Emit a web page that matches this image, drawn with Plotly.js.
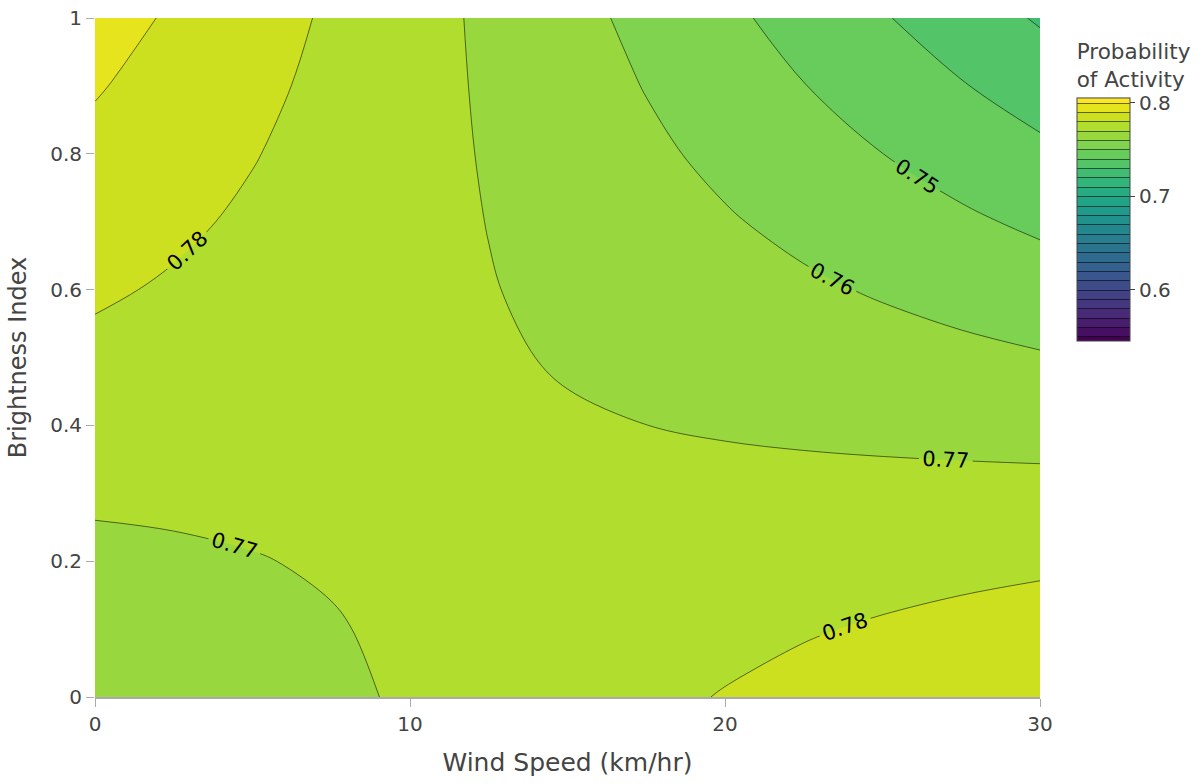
<!DOCTYPE html>
<html>
<head>
<meta charset="utf-8">
<script src="https://cdn.plot.ly/plotly-3.0.1.min.js"></script>
<style>html,body{margin:0;padding:0;background:#fff;}#chart{width:1202px;height:784px;}</style>
</head>
<body>
<div id="chart"></div>
<script>
// Wind speed (km/hr) grid
var windSpeed = [0, 2.5, 5, 7.5, 10, 12.5, 15, 17.5, 20, 22.5, 25, 27.5, 30];
// Brightness index grid
var brightness = [0, 0.1, 0.2, 0.3, 0.4, 0.5, 0.6, 0.7, 0.8, 0.9, 1.0];
// Probability of activity, one row per brightness value
var prob_b00 = [0.76117, 0.76364, 0.76609, 0.76852, 0.77094, 0.77334, 0.77572, 0.77808, 0.78042, 0.78275, 0.78506, 0.78735, 0.78962];
var prob_b01 = [0.76459, 0.76626, 0.76792, 0.76957, 0.77121, 0.77284, 0.77447, 0.77609, 0.77769, 0.77930, 0.78089, 0.78247, 0.78405];
var prob_b02 = [0.76798, 0.76886, 0.76973, 0.77061, 0.77148, 0.77235, 0.77321, 0.77408, 0.77494, 0.77580, 0.77666, 0.77751, 0.77836];
var prob_b03 = [0.77133, 0.77143, 0.77154, 0.77164, 0.77174, 0.77185, 0.77195, 0.77205, 0.77216, 0.77226, 0.77236, 0.77247, 0.77257];
var prob_b04 = [0.77465, 0.77399, 0.77333, 0.77267, 0.77201, 0.77135, 0.77068, 0.77002, 0.76935, 0.76868, 0.76801, 0.76734, 0.76667];
var prob_b05 = [0.77793, 0.77652, 0.77511, 0.77370, 0.77227, 0.77085, 0.76941, 0.76797, 0.76652, 0.76507, 0.76361, 0.76214, 0.76067];
var prob_b06 = [0.78118, 0.77904, 0.77689, 0.77472, 0.77254, 0.77035, 0.76813, 0.76591, 0.76367, 0.76141, 0.75914, 0.75686, 0.75456];
var prob_b07 = [0.78439, 0.78154, 0.77865, 0.77574, 0.77281, 0.76984, 0.76685, 0.76383, 0.76079, 0.75772, 0.75462, 0.75149, 0.74834];
var prob_b08 = [0.78757, 0.78401, 0.78041, 0.77676, 0.77307, 0.76934, 0.76557, 0.76175, 0.75789, 0.75399, 0.75004, 0.74605, 0.74202];
var prob_b09 = [0.79072, 0.78647, 0.78215, 0.77778, 0.77334, 0.76884, 0.76427, 0.75965, 0.75496, 0.75021, 0.74540, 0.74053, 0.73559];
var prob_b10 = [0.79383, 0.78890, 0.78389, 0.77879, 0.77360, 0.76833, 0.76298, 0.75754, 0.75201, 0.74640, 0.74071, 0.73493, 0.72906];

var colorbarTicks = [0.6, 0.7, 0.8];

var zGrid = [prob_b00, prob_b01, prob_b02, prob_b03, prob_b04, prob_b05,
             prob_b06, prob_b07, prob_b08, prob_b09, prob_b10];

var FONT = 'Verdana, "DejaVu Sans", sans-serif';

var trace = {
  type: 'contour',
  x: windSpeed,
  y: brightness,
  z: zGrid,
  colorscale: 'Viridis',
  autocontour: false,
  contours: {
    start: 0.55,
    end: 0.8,
    size: 0.01,
    coloring: 'fill',
    showlabels: true,
    labelfont: {family: FONT, size: 21, color: '#000'}
  },
  line: {color: 'rgba(0,0,0,0.55)', width: 1, smoothing: 1},
  colorbar: {
    title: {text: 'Probability<br>of Activity', side: 'top', font: {family: FONT, size: 21.5, color: '#444'}},
    tickvals: colorbarTicks,
    ticks: 'outside',
    ticklen: 5,
    tickcolor: '#444',
    tickfont: {family: FONT, size: 20, color: '#444'},
    thickness: 53,
    len: 0.473,
    lenmode: 'fraction',
    y: 0.982,
    yanchor: 'top',
    x: 1.0288,
    xanchor: 'left',
    outlinewidth: 1,
    outlinecolor: '#444'
  },
  hoverinfo: 'x+y+z'
};

var layout = {
  width: 1202,
  height: 784,
  margin: {l: 95, r: 162, t: 18, b: 87, autoexpand: false},
  paper_bgcolor: '#fff',
  plot_bgcolor: '#fff',
  font: {family: FONT, size: 20, color: '#444'},
  xaxis: {
    title: {text: 'Wind Speed (km/hr)', font: {family: FONT, size: 25, color: '#444'}, standoff: 18},
    range: [0, 30],
    dtick: 10,
    tick0: 0,
    ticks: 'outside',
    ticklen: 8,
    tickcolor: '#aaa',
    showline: true,
    linecolor: '#aaa',
    linewidth: 2,
    showgrid: false,
    zeroline: false,
    tickfont: {family: FONT, size: 20, color: '#444'}
  },
  yaxis: {
    title: {text: 'Brightness Index', font: {family: FONT, size: 24, color: '#444'}, standoff: 16},
    range: [0, 1],
    dtick: 0.2,
    tick0: 0,
    ticks: 'outside',
    ticklen: 8,
    tickcolor: '#aaa',
    showline: false,
    showgrid: false,
    zeroline: false,
    tickfont: {family: FONT, size: 20, color: '#444'}
  }
};

Plotly.newPlot('chart', [trace], layout, {displayModeBar: false, staticPlot: true});
</script>
</body>
</html>
